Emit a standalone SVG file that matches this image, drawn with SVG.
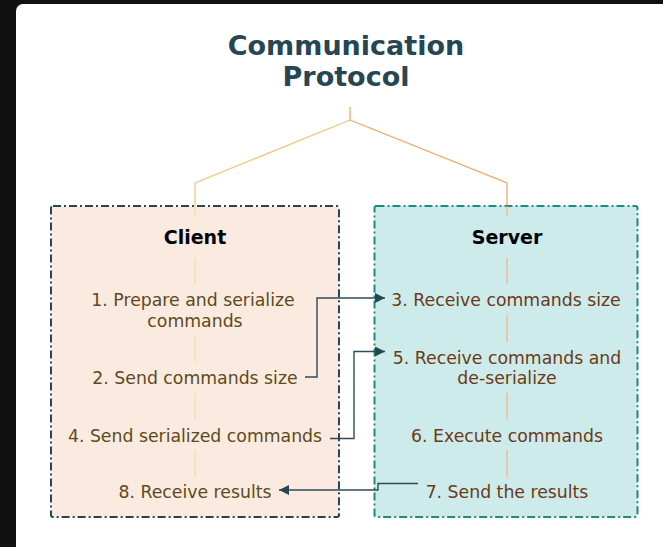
<svg xmlns="http://www.w3.org/2000/svg" width="663" height="547" viewBox="0 0 663 547">
<defs>
<style>
text{font-family:"DejaVu Sans","Liberation Sans",sans-serif;text-anchor:middle}
.title{font-size:27px;font-weight:bold;fill:#264653}
.head{font-size:19px;font-weight:bold;fill:#000}
.ct{font-size:17.3px;fill:#5c4a1c}
.st{font-size:17.3px;fill:#6b3a16}
.conn{fill:none;stroke:#2f4b58;stroke-width:1.4}
.tl{fill:none;stroke-width:1.2}
</style>
<marker id="ah" viewBox="0 0 10 10" refX="10" refY="5" markerWidth="10" markerHeight="10" markerUnits="userSpaceOnUse" orient="auto">
<path d="M0,0 L10,5 L0,10 z" fill="#264653"/>
</marker>
</defs>
<rect x="0" y="0" width="663" height="547" fill="#111111"/>
<rect x="16" y="4" width="660" height="560" rx="7" fill="#ffffff"/>
<g id="title">
<text class="title" x="346" y="55">Communication</text>
<text class="title" x="346" y="86">Protocol</text>
</g>
<g id="tree">
<path class="tl" d="M350,107 V120" stroke="#f4a261"/>
<path class="tl" d="M350,120 L195,183 V216" stroke="#f2c47a"/>
<path class="tl" d="M350,120 L507,183 V216" stroke="#f4a261"/>
</g>
<g id="client">
<rect x="51" y="206" width="288" height="311" rx="2" fill="#fbeadf" stroke="#264653" stroke-width="2" stroke-dasharray="8 3 2 3"/>
<path class="tl" d="M195,206 V216 M195,258 V284 M195,336 V362 M195,393 V419 M195,450 V477" stroke="#f5d9a0" stroke-width="1.5"/>
<text class="head" x="195" y="244">Client</text>
<text class="ct" x="193" y="306">1. Prepare and serialize</text>
<text class="ct" x="195" y="327">commands</text>
<text class="ct" x="195" y="384">2. Send commands size</text>
<text class="ct" x="195" y="442">4. Send serialized commands</text>
<text class="ct" x="195" y="498">8. Receive results</text>
</g>
<g id="server">
<rect x="374.5" y="206" width="263" height="311" rx="2" fill="#cdebea" stroke="#1f8a7e" stroke-width="2" stroke-dasharray="8 3 2 3"/>
<path class="tl" d="M507,206 V216 M507,258 V284 M507,315 V342 M507,393 V419 M507,450 V477" stroke="#f4b27e" stroke-width="1.5"/>
<text class="head" x="507" y="244">Server</text>
<text class="st" x="506" y="306">3. Receive commands size</text>
<text class="st" x="507" y="364">5. Receive commands and</text>
<text class="st" x="507" y="384">de-serialize</text>
<text class="st" x="507" y="442">6. Execute commands</text>
<text class="st" x="507" y="498">7. Send the results</text>
</g>
<g id="connectors">
<path class="conn" d="M305,377 H317 V298 H385" marker-end="url(#ah)"/>
<path class="conn" d="M330,438.5 H354 V351.5 H385" marker-end="url(#ah)"/>
<path class="conn" d="M418,483.5 H378 V490 H279" marker-end="url(#ah)"/>
</g>
</svg>
